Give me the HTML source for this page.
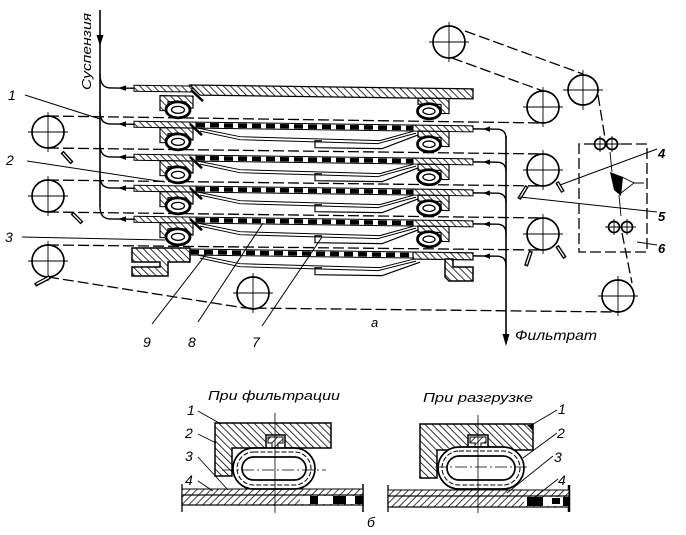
<!DOCTYPE html>
<html><head><meta charset="utf-8">
<style>
html,body{margin:0;padding:0;background:#fff;}
svg{display:block;}
text{font-family:"Liberation Sans",sans-serif;font-style:italic;fill:#000;}
</style></head><body>
<svg width="686" height="535" viewBox="0 0 686 535" xmlns="http://www.w3.org/2000/svg">
<defs>
<pattern id="h" width="5" height="5" patternUnits="userSpaceOnUse" patternTransform="rotate(-45)">
<rect width="5" height="5" fill="#fff"/>
<line x1="0" y1="0" x2="0" y2="5" stroke="#000" stroke-width="1.6"/>
</pattern>
<pattern id="h2" width="5" height="5" patternUnits="userSpaceOnUse" patternTransform="rotate(45)">
<rect width="5" height="5" fill="#fff"/>
<line x1="0" y1="0" x2="0" y2="5" stroke="#000" stroke-width="1.5"/>
</pattern>

<g id="fp" fill="none" stroke="#000">
 <path d="M100,-12 Q100,0 110,0 H134" stroke-width="1.4"/>
 <path d="M118,0 L126,-2.8 V2.8 Z" fill="#000" stroke="none"/>
 <rect x="134" y="-3" width="62" height="6" fill="url(#h)" stroke-width="1"/>
 <path d="M196,-3 H413 M196,3 H413" stroke-width="1"/>
 <path d="M196,0 H413" stroke-width="4.5" stroke-dasharray="9 5"/>
 <rect x="413" y="-3" width="60" height="6" fill="url(#h)" stroke-width="1"/>
 <path d="M473,0 H497 Q506,0 506,9" stroke-width="1.4"/>
 <path d="M483,0 L490,-2.8 V2.8 Z" fill="#000" stroke="none"/>
 <path d="M198,3 L240,11 L380,13 L414,3" stroke-width="1"/>
 <path d="M200,6 L240,14 L378,16 L416,5" stroke-width="1"/>
 <path d="M322,14 H315 V21 H382 L420,6" stroke-width="1.2"/>
 <path d="M160,3 H193 V15 H186 V9 H168 V18 H160 Z" fill="url(#h)" stroke-width="1.2"/>
 <path d="M190,-1 L202,10" stroke-width="2.5"/>
 <ellipse cx="178" cy="17" rx="12" ry="8" fill="#fff" stroke-width="2.8"/>
 <ellipse cx="178" cy="17" rx="6.5" ry="3.5" fill="#fff" stroke-width="1.3"/>
 <path d="M418,3 H449 V18 H441 V9 H418 Z" fill="url(#h)" stroke-width="1.2"/>
 <ellipse cx="429" cy="16" rx="11.5" ry="7.5" fill="#fff" stroke-width="2.8"/>
 <ellipse cx="429" cy="16" rx="6" ry="3.2" fill="#fff" stroke-width="1.3"/>
</g>

<g id="tp" fill="none" stroke="#000">
 <path d="M100,-14 Q100,0 110,0 H134" stroke-width="1.4"/>
 <path d="M118,0 L126,-2.8 V2.8 Z" fill="#000" stroke="none"/>
 <rect x="134" y="-3" width="58" height="6" fill="url(#h)" stroke-width="1"/>
 <path d="M190,-4 H473 V6 H200 Z" fill="url(#h)" stroke-width="1.3"/>
 <path d="M191,1 L203,12" stroke-width="2.5"/>
 <path d="M160,7 H193 V19 H186 V13 H168 V22 H160 Z" fill="url(#h)" stroke-width="1.2"/>
 <ellipse cx="178" cy="21" rx="12" ry="8" fill="#fff" stroke-width="2.8"/>
 <ellipse cx="178" cy="21" rx="6.5" ry="3.5" fill="#fff" stroke-width="1.3"/>
 <path d="M418,6 H449 V21 H441 V12 H418 Z" fill="url(#h)" stroke-width="1.2"/>
 <ellipse cx="429" cy="19" rx="11.5" ry="7.5" fill="#fff" stroke-width="2.8"/>
 <ellipse cx="429" cy="19" rx="6" ry="3.2" fill="#fff" stroke-width="1.3"/>
</g>

<g id="bp" fill="none" stroke="#000">
 <path d="M190,-3 H413 M190,3 H413" stroke-width="1"/>
 <path d="M190,0 H413" stroke-width="4.5" stroke-dasharray="9 5"/>
 <rect x="413" y="-3" width="60" height="7" fill="url(#h)" stroke-width="1.2"/>
 <path d="M473,0 H497 Q506,0 506,9" stroke-width="1.4"/>
 <path d="M483,0 L490,-2.8 V2.8 Z" fill="#000" stroke="none"/>
 <path d="M198,3 L240,11 L380,13 L414,4" stroke-width="1"/>
 <path d="M200,6 L240,14 L378,16 L416,6" stroke-width="1"/>
 <path d="M322,14 H315 V21 H382 L420,7" stroke-width="1.2"/>
</g>
</defs>

<rect width="686" height="535" fill="#fff"/>

<!-- belts (dashed) -->
<g stroke="#000" stroke-width="1.3" stroke-dasharray="11 4" fill="none">
<line x1="48" y1="116" x2="543" y2="123"/>
<line x1="48" y1="148" x2="543" y2="154"/>
<line x1="48" y1="180" x2="543" y2="186"/>
<line x1="48" y1="212" x2="543" y2="218"/>
<line x1="48" y1="245" x2="543" y2="250"/>
<path d="M48,277 L245,308 L618,312"/>
<path d="M465,31 L583,74"/>
<path d="M452,58 L543,91"/>
<path d="M598,95 L605,138"/>
<path d="M622,233 L632,283"/>
<path d="M595,144 H579 V252 H647 V144 H621"/>
</g>

<!-- main verticals -->
<g stroke="#000" fill="none" stroke-width="1.6">
<line x1="100" y1="10" x2="100" y2="207"/>
<line x1="506" y1="136" x2="506" y2="336"/>
</g>
<path d="M96.5,35 H103.5 L100,46 Z" fill="#000"/>
<path d="M502.5,334 H509.5 L506,346 Z" fill="#000"/>

<!-- plates -->
<use href="#tp" transform="translate(0,86.4) skewY(0.785)"/>
<use href="#fp" transform="translate(0,122.4) skewY(0.785)"/>
<use href="#fp" transform="translate(0,155.4) skewY(0.785)"/>
<use href="#fp" transform="translate(0,186.4) skewY(0.785)"/>
<use href="#fp" transform="translate(0,217.4) skewY(0.785)"/>
<use href="#bp" transform="translate(0,249.4) skewY(0.785)"/>

<!-- bottom blocks -->
<path d="M132,248 H190 V262 H168 V276 H132 V267 H160 V262 H132 Z" fill="url(#h)" stroke="#000" stroke-width="1.5"/>
<path d="M445,259 H453 V267 H473 V281 H449 L445,277 Z" fill="url(#h)" stroke="#000" stroke-width="1.5"/>

<!-- rollers -->
<g stroke="#000" fill="none" stroke-width="1.7">
<circle cx="48" cy="132" r="16"/>
<circle cx="48" cy="196" r="16"/>
<circle cx="48" cy="261" r="16"/>
<circle cx="543" cy="107" r="16"/>
<circle cx="543" cy="170" r="16"/>
<circle cx="543" cy="234" r="16"/>
<circle cx="449" cy="42" r="16"/>
<circle cx="583" cy="90" r="15"/>
<circle cx="253" cy="293" r="16"/>
<circle cx="618" cy="296" r="16"/>
<circle cx="600" cy="144" r="5.5"/><circle cx="612" cy="144" r="5.5"/>
<circle cx="614" cy="227" r="5.5"/><circle cx="627" cy="227" r="5.5"/>
</g>
<g stroke="#000" stroke-width="0.9" fill="none">
<path d="M28,132 H68 M48,112 V152"/>
<path d="M28,196 H68 M48,176 V216"/>
<path d="M28,261 H68 M48,241 V281"/>
<path d="M523,107 H563 M543,87 V127"/>
<path d="M523,170 H563 M543,150 V190"/>
<path d="M523,234 H563 M543,214 V254"/>
<path d="M429,42 H469 M449,22 V62"/>
<path d="M563,90 H603 M583,70 V110"/>
<path d="M233,293 H273 M253,273 V313"/>
<path d="M598,296 H638 M618,276 V316"/>
<path d="M591,144 H621 M600,136 V152 M612,136 V152"/>
<path d="M605,227 H636 M614,219 V235 M627,219 V235"/>
<path d="M610,152 L612,172 M619,195 L621,216"/>
<path d="M622,177 L634,183 L621,193 M634,183 H644"/>
</g>
<path d="M610,172 L623,177 L621,196 L614,190 Z" fill="#000"/>

<!-- scrapers (outlined double lines) -->
<g stroke="#000" stroke-width="4" fill="none">
<line x1="62" y1="152" x2="72" y2="163"/>
<line x1="72" y1="213" x2="82" y2="223"/>
<line x1="35" y1="285" x2="50" y2="277"/>
<line x1="557" y1="182" x2="563" y2="192"/>
<line x1="519" y1="199" x2="527" y2="186"/>
<line x1="526" y1="266" x2="531" y2="251"/>
<line x1="557" y1="246" x2="565" y2="258"/>
</g>
<g stroke="#fff" stroke-width="1.3" fill="none">
<line x1="63" y1="153" x2="71" y2="162"/>
<line x1="73" y1="214" x2="81" y2="222"/>
<line x1="36.5" y1="284" x2="49" y2="277.5"/>
<line x1="557.7" y1="183" x2="562.3" y2="191"/>
<line x1="519.8" y1="197.8" x2="526.2" y2="187.2"/>
<line x1="526.5" y1="264.5" x2="530.5" y2="252.5"/>
<line x1="557.8" y1="247.2" x2="564.2" y2="256.8"/>
</g>

<!-- leaders main -->
<g stroke="#000" stroke-width="1" fill="none">
<line x1="25" y1="95" x2="100" y2="119"/>
<line x1="27" y1="161" x2="165" y2="182"/>
<line x1="22" y1="237" x2="165" y2="240"/>
<line x1="152" y1="324" x2="207" y2="253"/>
<line x1="198" y1="322" x2="263" y2="223"/>
<line x1="262" y1="326" x2="322" y2="237"/>
<line x1="560" y1="185" x2="657" y2="149"/>
<line x1="520" y1="197" x2="657" y2="212"/>
<line x1="637" y1="242" x2="657" y2="245"/>
</g>

<!-- main texts -->
<text transform="translate(91,90) rotate(-90)" font-size="13" textLength="77" lengthAdjust="spacingAndGlyphs">Суспензия</text>
<text x="8" y="100" font-size="14">1</text>
<text x="6" y="165" font-size="14">2</text>
<text x="5" y="242" font-size="14">3</text>
<text x="143" y="347" font-size="14">9</text>
<text x="188" y="347" font-size="14">8</text>
<text x="252" y="347" font-size="14">7</text>
<text x="658" y="158" font-size="13" font-weight="bold">4</text>
<text x="658" y="221" font-size="13" font-weight="bold">5</text>
<text x="658" y="253" font-size="13" font-weight="bold">6</text>
<text x="371" y="327" font-size="13">а</text>
<text x="515" y="340" font-size="14" textLength="82" lengthAdjust="spacingAndGlyphs">Фильтрат</text>

<!-- ===== detail left ===== -->
<text x="208" y="400" font-size="13" textLength="132" lengthAdjust="spacingAndGlyphs">При фильтрации</text>
<g stroke="#000">
<line x1="182" y1="484" x2="182" y2="512" stroke-width="1.3"/>
<line x1="363" y1="484" x2="363" y2="512" stroke-width="1.5"/>
<rect x="182" y="489" width="181" height="6" fill="url(#h2)" stroke-width="1"/>
<rect x="182" y="495" width="181" height="10" fill="url(#h2)" stroke-width="1.2"/>
<rect x="300" y="496" width="62" height="8" fill="#fff" stroke="none"/>
<rect x="310" y="496" width="8" height="8" fill="#000" stroke="none"/>
<rect x="333" y="496" width="13" height="8" fill="#000" stroke="none"/>
<rect x="355" y="496" width="8" height="8" fill="#000" stroke="none"/>
<path d="M215,423 H331 V448 H285 V435 H266 V448 H232 V476 H215 Z" fill="url(#h)" stroke-width="1.5"/>
<path d="M268,437 H283 V443 H278 V449 H272 V443 H268 Z" fill="url(#h2)" stroke-width="1"/>
<rect x="233" y="448" width="82" height="41" rx="20.5" fill="#fff" stroke-width="1.7"/>
<rect x="237" y="452" width="74" height="33" rx="16.5" fill="none" stroke-width="1" stroke-dasharray="5 2"/>
<rect x="242" y="457" width="64" height="23" rx="11.5" fill="#fff" stroke-width="1.7"/>
<line x1="275" y1="413" x2="275" y2="513" stroke-width="0.8"/>
<line x1="222" y1="470" x2="326" y2="470" stroke-width="0.8" stroke-dasharray="12 3 2 3"/>
<g stroke-width="0.9">
<line x1="198" y1="411" x2="221" y2="424"/>
<line x1="198" y1="434" x2="216" y2="443"/>
<line x1="198" y1="457" x2="228" y2="490"/>
<line x1="198" y1="481" x2="213" y2="491"/>
</g>
</g>
<text x="187" y="415" font-size="14">1</text>
<text x="185" y="438" font-size="14">2</text>
<text x="185" y="461" font-size="14">3</text>
<text x="185" y="485" font-size="14">4</text>

<!-- ===== detail right ===== -->
<text x="423" y="402" font-size="13" textLength="110" lengthAdjust="spacingAndGlyphs">При разгрузке</text>
<g stroke="#000">
<line x1="388" y1="485" x2="388" y2="512" stroke-width="1.3"/>
<line x1="569" y1="485" x2="569" y2="512" stroke-width="2.5"/>
<rect x="388" y="490" width="181" height="6" fill="url(#h2)" stroke-width="1"/>
<rect x="388" y="496" width="181" height="11" fill="url(#h2)" stroke-width="1.2"/>
<rect x="524" y="497" width="44" height="9" fill="#fff" stroke="none"/>
<rect x="527" y="497" width="16" height="9" fill="#000" stroke="none"/>
<rect x="552" y="498" width="8" height="6" fill="#000" stroke="none"/>
<rect x="563" y="497" width="6" height="9" fill="#000" stroke="none"/>
<path d="M420,424 H533 V450 H488 V435 H468 V450 H437 V478 H420 Z" fill="url(#h)" stroke-width="1.5"/>
<path d="M470,437 H486 V443 H481 V449 H475 V443 H470 Z" fill="url(#h2)" stroke-width="1"/>
<rect x="438" y="447" width="86" height="42" rx="21" fill="#fff" stroke-width="1.7"/>
<rect x="442" y="451" width="78" height="34" rx="17" fill="none" stroke-width="1" stroke-dasharray="5 2"/>
<rect x="447" y="456" width="68" height="24" rx="12" fill="#fff" stroke-width="1.7"/>
<line x1="478" y1="415" x2="478" y2="513" stroke-width="0.8"/>
<line x1="435" y1="467" x2="530" y2="467" stroke-width="0.8" stroke-dasharray="12 3 2 3"/>
<path d="M527,425 L533,425 L533,431 Z" fill="#000" stroke="none"/>
<g stroke-width="0.9">
<line x1="557" y1="410" x2="530" y2="426"/>
<line x1="557" y1="433" x2="523" y2="458"/>
<line x1="553" y1="456" x2="507" y2="493"/>
<line x1="558" y1="479" x2="535" y2="497"/>
</g>
</g>
<text x="558" y="414" font-size="14">1</text>
<text x="557" y="438" font-size="14">2</text>
<text x="554" y="462" font-size="14">3</text>
<text x="558" y="485" font-size="14">4</text>
<text x="367" y="527" font-size="14">б</text>
</svg>
</body></html>
